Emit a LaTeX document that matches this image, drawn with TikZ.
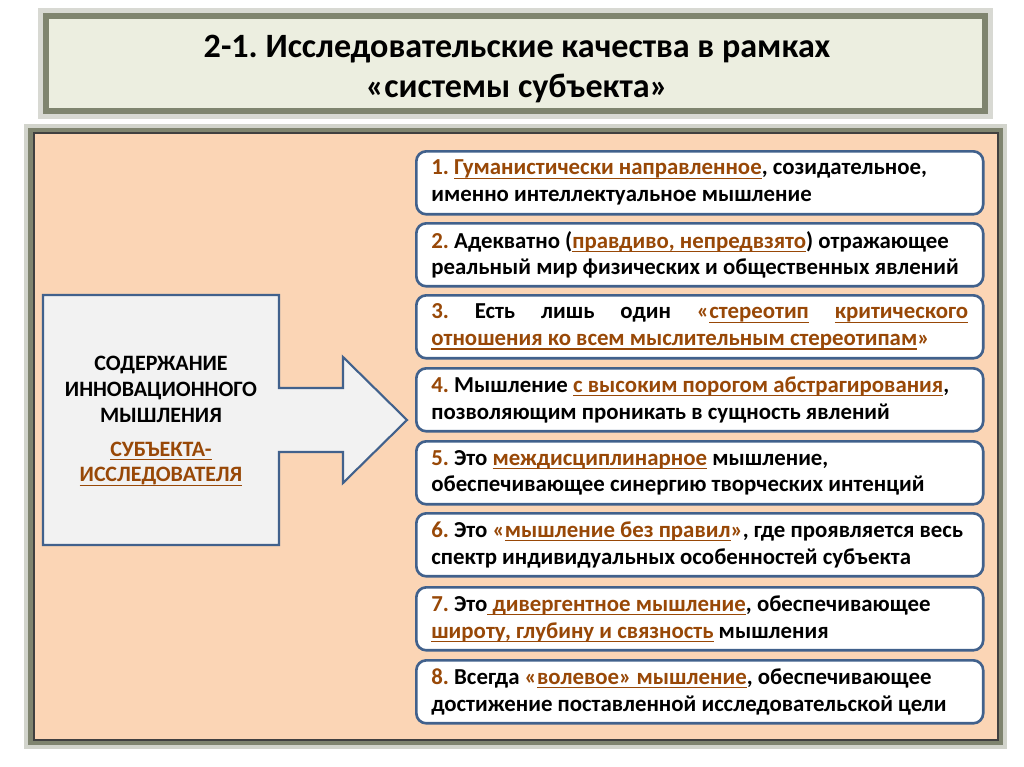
\documentclass[tikz,border=0pt]{standalone}
\usepackage{fontspec}
\setmainfont{Carlito}
\definecolor{peach}{HTML}{FBD5B5}
\definecolor{titlefill}{HTML}{ECEEE0}
\definecolor{oliveframe}{HTML}{7F846F}
\definecolor{boxblue}{HTML}{41618C}
\definecolor{brn}{HTML}{984807}
\definecolor{subjfill}{HTML}{F2F2F2}
\frenchspacing
\newcommand{\qnum}[1]{\textcolor{brn}{#1}}
\newcommand{\ulbrn}[1]{\setbox0=\hbox{#1}\rlap{\rule[-2.3pt]{\wd0}{0.75pt}}\box0\relax}
\newcommand{\brul}[1]{\textcolor{brn}{\ulbrn{#1}}}

\begin{document}
\begin{tikzpicture}[x=0.02cm,y=-0.02cm,
  quality/.style={draw=boxblue,line width=1.5pt,fill=white,rounded corners=0.2cm,
    anchor=north west,minimum width=11.34cm,minimum height=1.26cm,
    text width=10.74cm,inner xsep=0.3cm,inner ysep=0pt,align=flush left,
    font=\bfseries\fontsize{13}{15.3}\selectfont},
  subject/.style={draw=boxblue,line width=1.2pt,fill=subjfill,line join=miter}]
  \useasboundingbox (0,0) rectangle (1024,767);
  \fill[white] (0,0) rectangle (1024,767);

  % title
  \fill[oliveframe,opacity=0.3] (38,8) rectangle (993,119);
  \fill[oliveframe] (43,13) rectangle (988,114);
  \fill[titlefill] (49,19) rectangle (982,108);
  \node[align=flush center,font=\bfseries\fontsize{19.4}{22.7}\selectfont] (title) at (517,69)
    {2-1. Исследовательские качества в рамках\\«системы субъекта»};

  % panel
  \fill[oliveframe,opacity=0.35] (24,124) rectangle (1007,749);
  \fill[oliveframe] (28,128) rectangle (1003,745);
  \draw[fill=peach,draw=black!75,line width=0.6pt] (34,133) rectangle (998,740);

  % box with arrow
  \draw[subject] (43,295) -- (279,295) -- (279,388) -- (343,388) -- (343,357)
    -- (407,420) -- (343,483) -- (343,452) -- (279,452) -- (279,545) -- (43,545) -- cycle;
  \node[align=flush center,font=\bfseries\fontsize{12.5}{14.7}\selectfont] (subj) at (161,421)
    {СОДЕРЖАНИЕ\\ИННОВАЦИОННОГО\\МЫШЛЕНИЯ\\[0.16cm]\brul{СУБЪЕКТА-}\\\brul{ИССЛЕДОВАТЕЛЯ}};

  % qualities
  \node[quality] (q1) at (415,150)
    {\qnum{1.} \brul{Гуманистически направленное}, созидательное,\\именно интеллектуальное мышление};
  \node[quality] (q2) at (415,222)
    {\qnum{2.} Адекватно (\brul{правдиво, непредвзято}) отражающее\\реальный мир физических и общественных явлений};
  \node[quality] (q3) at (415,294)
    {\makebox[10.74cm][s]{\qnum{3.} Есть лишь один \textcolor{brn}{«\ulbrn{стереотип} \ulbrn{критического}}}\\
     \brul{отношения ко всем мыслительным стереотипам}\qnum{»}};
  \node[quality] (q4) at (415,367)
    {\qnum{4.} Мышление \brul{с высоким порогом абстрагирования},\\позволяющим проникать в сущность явлений};
  \node[quality] (q5) at (415,440)
    {\qnum{5.} Это \brul{междисциплинарное} мышление,\\обеспечивающее синергию творческих интенций};
  \node[quality] (q6) at (415,512)
    {\qnum{6.} Это \textcolor{brn}{«\ulbrn{мышление без правил}»}, где проявляется весь\\спектр индивидуальных особенностей субъекта};
  \node[quality] (q7) at (415,586)
    {\qnum{7.} Это\brul{ дивергентное мышление}, обеспечивающее\\\brul{широту, глубину и связность} мышления};
  \node[quality] (q8) at (415,659)
    {\qnum{8.} Всегда \textcolor{brn}{«\ulbrn{волевое» мышление}}, обеспечивающее\\достижение поставленной исследовательской цели};
\end{tikzpicture}
\end{document}
